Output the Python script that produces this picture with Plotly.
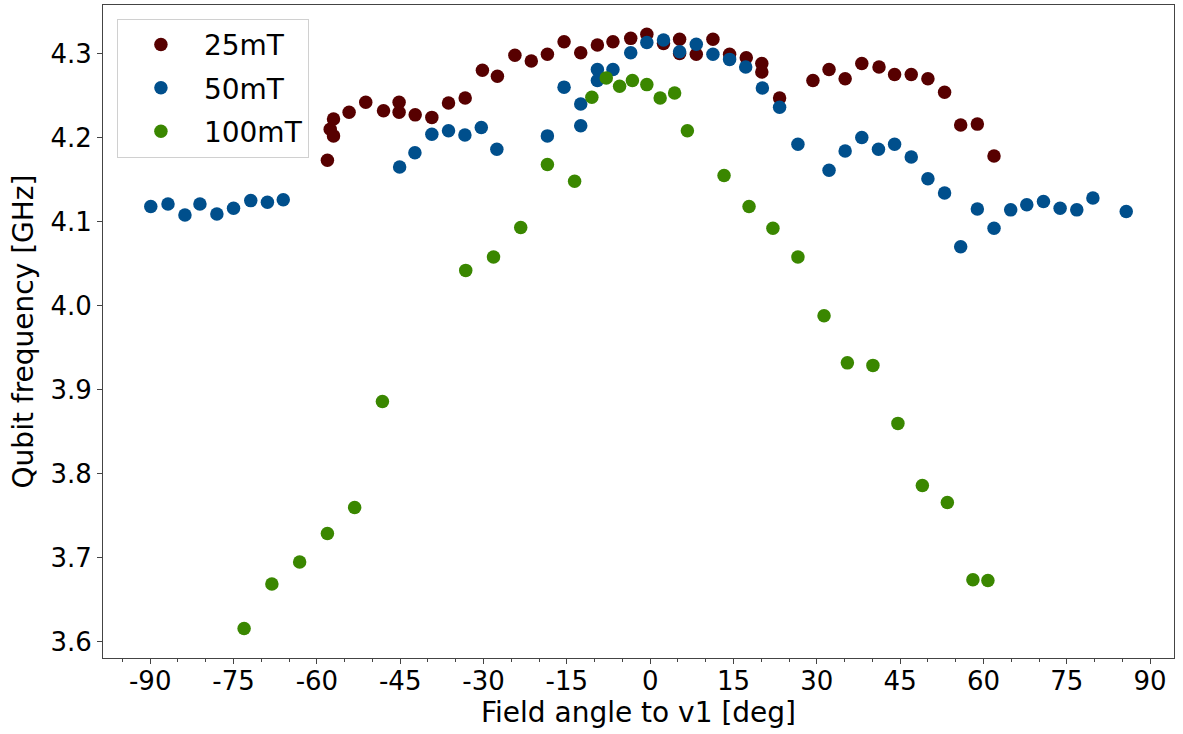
import plotly.graph_objects as go

# ---- data ----
angle_25 = [-58.1, -57.6, -57.0, -57.0, -54.2, -51.2, -48.0, -45.2, -45.2, -42.3,
            -39.3, -36.3, -33.3, -30.2, -27.5, -24.35, -21.4, -18.5, -15.5, -12.5,
            -9.5, -6.7, -3.5, -0.6, 2.4, 5.3, 5.3, 8.3, 11.3, 14.3,
            17.3, 20.1, 20.1, 23.3, 29.3, 32.2, 35.1, 38.1, 41.2, 44.0,
            47.0, 50.0, 53.0, 55.9, 58.9, 61.9]
freq_25 = [4.173, 4.210, 4.222, 4.202, 4.230, 4.242, 4.232, 4.242, 4.230, 4.227,
           4.224, 4.241, 4.247, 4.280, 4.273, 4.298, 4.291, 4.299, 4.314, 4.301,
           4.310, 4.314, 4.318, 4.323, 4.312, 4.317, 4.300, 4.299, 4.317, 4.299,
           4.295, 4.288, 4.278, 4.247, 4.268, 4.281, 4.270, 4.288, 4.284, 4.275,
           4.275, 4.270, 4.254, 4.215, 4.216, 4.178]

angle_50 = [-89.9, -86.8, -83.75, -81.05, -78.0, -75.0, -71.9, -68.9, -66.05,
            -45.1, -42.35, -39.3, -36.3, -33.35, -30.4, -27.6, -18.5, -15.5, -12.5,
            -12.5, -9.5, -9.5, -6.7, -3.5, -0.6, 2.4, 5.3, 8.3, 11.3,
            14.3, 17.2, 20.2, 23.3, 26.6, 32.2, 35.1, 38.1, 41.1, 44.0,
            47.0, 50.0, 53.0, 55.9, 58.9, 61.9, 64.9, 67.8, 70.8, 73.8,
            76.8, 79.7, 85.7]
freq_50 = [4.118, 4.121, 4.108, 4.121, 4.109, 4.116, 4.125, 4.123, 4.126,
           4.165, 4.182, 4.204, 4.208, 4.203, 4.212, 4.186, 4.202, 4.260, 4.240,
           4.214, 4.281, 4.268, 4.281, 4.301, 4.313, 4.316, 4.302, 4.311, 4.299,
           4.293, 4.284, 4.259, 4.236, 4.192, 4.161, 4.184, 4.200, 4.186, 4.192,
           4.177, 4.151, 4.134, 4.070, 4.115, 4.092, 4.114, 4.120, 4.124, 4.116,
           4.114, 4.128, 4.112]

angle_100 = [-73.1, -68.1, -63.1, -58.1, -53.2, -48.2, -33.2, -28.2, -23.3, -18.5,
             -13.6, -10.5, -7.9, -5.5, -3.2, -0.6, 1.8, 4.4, 6.7, 13.3,
             17.8, 22.1, 26.6, 31.3, 35.5, 40.1, 44.6, 49.0, 53.5, 58.1, 60.8]
freq_100 = [3.616, 3.669, 3.695, 3.729, 3.760, 3.886, 4.042, 4.058, 4.093, 4.168,
            4.148, 4.248, 4.271, 4.261, 4.268, 4.263, 4.247, 4.253, 4.208, 4.155,
            4.118, 4.092, 4.058, 3.988, 3.932, 3.929, 3.860, 3.786, 3.766, 3.674, 3.673]

series_names = ["25mT", "50mT", "100mT"]
x_tick_vals = [-90, -75, -60, -45, -30, -15, 0, 15, 30, 45, 60, 75, 90]
x_tick_text = ["-90", "-75", "-60", "-45", "-30", "-15", "0", "15", "30", "45", "60", "75", "90"]
y_tick_vals = [3.6, 3.7, 3.8, 3.9, 4.0, 4.1, 4.2, 4.3]
y_tick_text = ["3.6", "3.7", "3.8", "3.9", "4.0", "4.1", "4.2", "4.3"]
x_title = "Field angle to v1 [deg]"
y_title = "Qubit frequency [GHz]"

colors = ["#570000", "#004f8c", "#3a8700"]
FONT = "DejaVu Sans"

fig = go.Figure()
for name, xs, ys, c in zip(series_names,
                           [angle_25, angle_50, angle_100],
                           [freq_25, freq_50, freq_100], colors):
    fig.add_trace(go.Scatter(
        x=xs, y=ys, mode="markers", name=name, legendgroup=name,
        marker=dict(color=c, size=13.5, line=dict(width=0)),
    ))

axis_common = dict(
    showgrid=False, zeroline=False, showline=True, mirror=True,
    linecolor="#444444", linewidth=1, ticks="outside", ticklen=5,
    tickcolor="#444444", tickfont=dict(family=FONT, size=26, color="black"),
)

fig.update_layout(
    width=1183, height=734,
    margin=dict(l=103, r=9, t=5, b=76),
    paper_bgcolor="white", plot_bgcolor="white",
    font=dict(family=FONT, color="black"),
    showlegend=True,
    legend=dict(
        x=0.013, y=0.979, xanchor="left", yanchor="top",
        bgcolor="rgba(255,255,255,0.85)", bordercolor="#d0d0d0", borderwidth=1,
        font=dict(family=FONT, size=28, color="black"),
        tracegroupgap=4, itemwidth=76,
    ),
    xaxis=dict(
        range=[-98.5, 94.3], tickvals=x_tick_vals, ticktext=x_tick_text,
        ticklabelstandoff=-5,
        minor=dict(dtick=5, tick0=0, ticks="outside", ticklen=3, tickcolor="#444444"),
        **axis_common,
    ),
    yaxis=dict(
        range=[3.5809, 4.3577], tickvals=y_tick_vals, ticktext=y_tick_text,
        title=dict(text=y_title, font=dict(family=FONT, size=28), standoff=8),
        **axis_common,
    ),
    annotations=[dict(
        text=x_title, xref="paper", yref="paper", x=0.5, y=0,
        xanchor="center", yanchor="middle", yshift=-54, showarrow=False,
        font=dict(family=FONT, size=28, color="black"),
    )],
)

fig.write_html("out.html")
